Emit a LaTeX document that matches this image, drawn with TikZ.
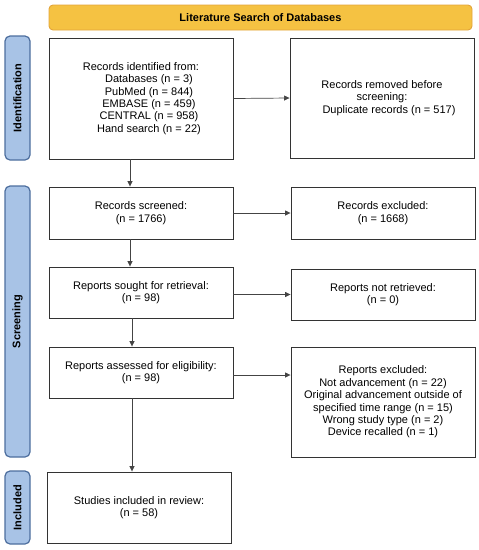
\documentclass[tikz,border=0pt]{standalone}
\usepackage{fontspec}
\setmainfont{Liberation Sans}
\usetikzlibrary{arrows.meta}
\definecolor{boxline}{HTML}{333333}
\definecolor{arrline}{HTML}{444444}
\definecolor{bannerfill}{HTML}{F5C242}
\definecolor{bannerline}{HTML}{E2A43A}
\definecolor{sidefill}{HTML}{A8C3E6}
\definecolor{sideline}{HTML}{4D6E9E}
\tikzset{
  box/.style={draw=boxline, line width=0.9pt, fill=white, minimum width=184pt, align=center, inner sep=2pt, font=\fontsize{11}{12.4}\selectfont},
  banner/.style={draw=bannerline, line width=0.9pt, fill=bannerfill, rounded corners=4pt, minimum width=423pt, minimum height=25pt, font=\fontsize{11}{12.4}\selectfont\bfseries},
  side/.style={draw=sideline, line width=1.2pt, fill=sidefill, rounded corners=5pt, minimum height=25pt, rotate=90, font=\fontsize{11}{12.4}\selectfont\bfseries},
  arr/.style={draw=arrline, line width=0.7pt, -{Triangle[length=5.5pt,width=5pt]}}
}
\begin{document}
\begin{tikzpicture}[x=1pt,y=-1pt]
\useasboundingbox (0,0) rectangle (479,550);
\node[banner] (banner) at (260.5,17.5) {Literature Search of Databases};
\node[side, minimum width=124pt] (sid) at (17.5,98) {Identification};
\node[side, minimum width=271pt] (sscr) at (17.5,321.5) {Screening};
\node[side, minimum width=73pt] (sinc) at (17.5,507.5) {Included};

\node[box, minimum height=121pt] (ident) at (141,98.5) {Records identified from:\\ \hspace*{16pt}Databases (n = 3)\\ \hspace*{16pt}PubMed (n = 844)\\ \hspace*{16pt}EMBASE (n = 459)\\ \hspace*{16pt}CENTRAL (n = 958)\\ \hspace*{16pt}Hand search (n = 22)};
\node[box, minimum height=120pt] (removed) at (382,98) {Records removed before\\ screening:\\ \hspace*{14pt}Duplicate records (n = 517)};
\node[box, minimum height=52pt] (screened) at (141,213) {Records screened:\\ (n = 1766)};
\node[box, minimum height=52pt] (excluded) at (383,213) {Records excluded:\\ (n = 1668)};
\node[box, minimum height=51pt] (sought) at (141,292.5) {Reports sought for retrieval:\\ (n = 98)};
\node[box, minimum height=51pt] (notret) at (383,294.5) {Reports not retrieved:\\ (n = 0)};
\node[box, minimum height=51pt] (assessed) at (141,372.5) {Reports assessed for eligibility:\\ (n = 98)};
\node[box, minimum height=110pt] (repex) at (383,402) {Reports excluded:\\ Not advancement (n = 22)\\ Original advancement outside of\\ specified time range (n = 15)\\ Wrong study type (n = 2)\\ Device recalled (n = 1)};
\node[box, minimum height=71pt] (studies) at (139,507.5) {Studies included in review:\\ (n = 58)};

\draw[arr] (ident.east) -- (removed.west);
\draw[arr] (screened.east) -- (excluded.west);
\coordinate (c3) at ([yshift=-2pt]sought.east);
\draw[arr] (c3) -- (c3 -| notret.west);
\coordinate (c4) at ([yshift=-2.5pt]assessed.east);
\draw[arr] (c4) -- (c4 -| repex.west);

\draw[arr] ([xshift=-11pt]ident.south) -- ([xshift=-11pt]screened.north);
\draw[arr] ([xshift=-11pt]screened.south) -- ([xshift=-11pt]sought.north);
\draw[arr] ([xshift=-9pt]sought.south) -- ([xshift=-9pt]assessed.north);
\coordinate (c5) at ([xshift=-9pt]assessed.south);
\draw[arr] (c5) -- (c5 |- studies.north);
\end{tikzpicture}
\end{document}
